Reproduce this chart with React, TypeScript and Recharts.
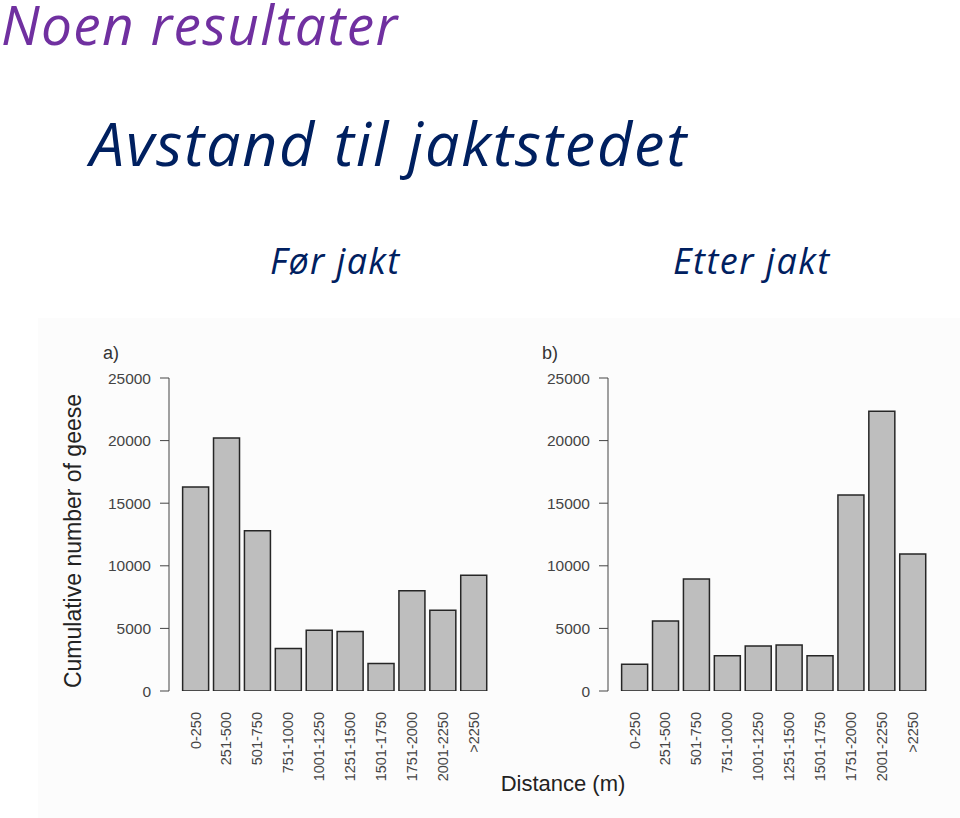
import React from "react";
import { Bar, BarChart, XAxis, YAxis } from "recharts";

const categories = [
  "0-250",
  "251-500",
  "501-750",
  "751-1000",
  "1001-1250",
  "1251-1500",
  "1501-1750",
  "1751-2000",
  "2001-2250",
  ">2250",
];
const beforeHunt = [16300, 20200, 12800, 3400, 4850, 4750, 2200, 8000, 6450, 9250];
const afterHunt = [2130, 5600, 8950, 2820, 3600, 3680, 2820, 15650, 22350, 10950];
const yTicks = [0, 5000, 10000, 15000, 20000, 25000];

const AXIS = "#444";
const SANS = "'Liberation Sans', Arial, sans-serif";
const TITLE_FONT = "'Open Sans', Lato, sans-serif";

function RotatedTick({ x, y, payload }: any) {
  return (
    <text
      x={x}
      y={y}
      transform={`rotate(-90, ${x}, ${y})`}
      textAnchor="end"
      dy="0.35em"
      fill={AXIS}
      fontSize={14.5}
      fontFamily={SANS}
    >
      {payload.value}
    </text>
  );
}

function Panel({ values, left }: { values: number[]; left: number }) {
  const rows = categories.map((c, i) => ({ cat: c, n: values[i] }));
  return (
    <div style={{ position: "absolute", left, top: 318 }}>
      <BarChart
        width={500}
        height={500}
        data={rows}
        margin={{ top: 60, right: 8, left: 60, bottom: 0 }}
        barCategoryGap="8.5%"
      >
        <XAxis
          dataKey="cat"
          height={127}
          axisLine={false}
          tickLine={false}
          interval={0}
          padding={{ left: 11, right: 3 }}
          tick={(p: any) => <RotatedTick {...p} y={691 - 318 + 21} />}
        />
        <YAxis
          width={109}
          domain={[0, 25000]}
          ticks={yTicks}
          interval={0}
          stroke={AXIS}
          tickSize={9}
          tickMargin={9}
          tick={{ fill: AXIS, fontSize: 15.5, fontFamily: SANS }}
          allowDataOverflow
        />
        <Bar dataKey="n" fill="#bebebe" stroke="#262626" strokeWidth={1.5} isAnimationActive={false} />
      </BarChart>
    </div>
  );
}

export default function App() {
  const title = (text: string, l: number, baseline: number, size: number, ls: number, color: string) => {
    // line box sized so the baseline lands where the reference has it
    const lh = 2 * (baseline - 1.069 * size) + 1.362 * size;
    return (
      <div
        style={{
          position: "absolute",
          left: l,
          top: 0,
          fontFamily: TITLE_FONT,
          fontStyle: "italic",
          fontSize: size,
          letterSpacing: ls,
          lineHeight: `${lh}px`,
          color,
          whiteSpace: "nowrap",
        }}
      >
        {text}
      </div>
    );
  };
  return (
    <div
      style={{
        position: "absolute",
        left: 0,
        top: 0,
        width: 960,
        height: 818,
        overflow: "hidden",
        background: "#fff",
      }}
    >
      <div style={{ position: "absolute", left: 38, top: 318, width: 922, height: 500, background: "#fcfcfc" }} />
      {title("Noen resultater", 1, 45, 55, 1.3, "#7030a0")}
      {title("Avstand til jaktstedet", 90, 167, 61, 1.8, "#002060")}
      {title("Før jakt", 270, 275, 36, 1.3, "#002060")}
      {title("Etter jakt", 673, 275, 36, 1.5, "#002060")}
      <Panel values={beforeHunt} left={0} />
      <Panel values={afterHunt} left={439} />
      <div style={{ position: "absolute", left: 103, top: 344, fontFamily: SANS, fontSize: 18, lineHeight: 1, color: "#333" }}>
        a)
      </div>
      <div style={{ position: "absolute", left: 542, top: 344, fontFamily: SANS, fontSize: 18, lineHeight: 1, color: "#333" }}>
        b)
      </div>
      <div
        style={{
          position: "absolute",
          left: 73 - 170,
          top: 541 - 13,
          width: 340,
          height: 26,
          textAlign: "center",
          transform: "rotate(-90deg)",
          transformOrigin: "50% 50%",
          fontFamily: SANS,
          fontSize: 23,
          lineHeight: "26px",
          color: "#222",
          whiteSpace: "nowrap",
        }}
      >
        Cumulative number of geese
      </div>
      <div
        style={{
          position: "absolute",
          left: 463,
          top: 773,
          width: 200,
          textAlign: "center",
          fontFamily: SANS,
          fontSize: 22,
          lineHeight: 1,
          color: "#222",
        }}
      >
        Distance (m)
      </div>
    </div>
  );
}
